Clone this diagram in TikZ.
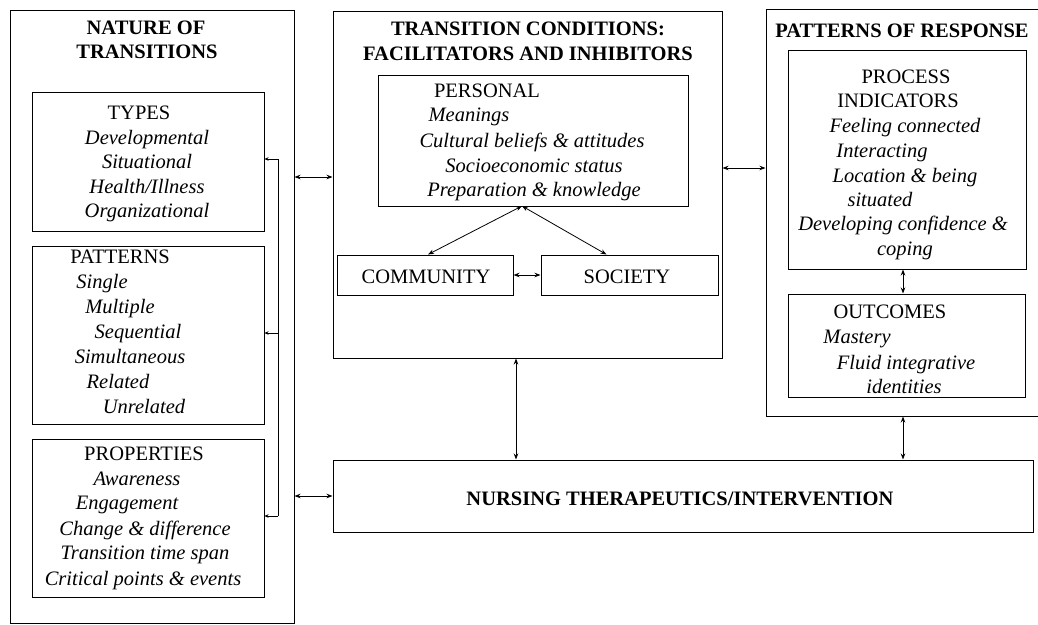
\documentclass[tikz,border=0pt]{standalone}
\usepackage{fontspec}
\setmainfont{Liberation Serif}
\usetikzlibrary{arrows.meta, fit, calc}

\tikzset{
  box/.style={draw, line width=1pt, inner sep=0pt},
  hd/.style={font=\fontsize{20.5}{24}\selectfont\bfseries, anchor=base, inner sep=0pt},
  sub/.style={font=\fontsize{20.5}{24}\selectfont, anchor=base, inner sep=0pt},
  itm/.style={font=\fontsize{20.5}{24}\selectfont\itshape, anchor=base, inner sep=0pt},
  dbl/.style={{Stealth[length=6pt,width=4.5pt]}-{Stealth[length=6pt,width=4.5pt]}, line width=0.8pt},
  tip/.style={-{Stealth[length=4pt,width=3.5pt]}, line width=0.8pt}
}

\begin{document}
\begin{tikzpicture}[x=1pt, y=-1pt]
  \useasboundingbox (0,0) rectangle (1038,624);
  % Nature of transitions
  \node[box, fit={(10,10) (294,623)}] (nat) {};
  \node[hd] (natA) at (146,34) {NATURE OF};
  \node[hd] (natB) at (147,58) {TRANSITIONS};
  \node[box, fit={(32,92) (264,231)}] (typ) {};
  \node[sub] (typT) at (139,119) {TYPES};
  \node[itm] (typ1) at (147,144) {Developmental};
  \node[itm] (typ2) at (147,168) {Situational};
  \node[itm] (typ3) at (147,193) {Health/Illness};
  \node[itm] (typ4) at (147,217) {Organizational};
  \node[box, fit={(32,246) (264,424)}] (pat) {};
  \node[sub] (patT) at (120,263) {PATTERNS};
  \node[itm] (pat1) at (102,288) {Single};
  \node[itm] (pat2) at (120,313) {Multiple};
  \node[itm] (pat3) at (138,338) {Sequential};
  \node[itm] (pat4) at (130,363) {Simultaneous};
  \node[itm] (pat5) at (118,388) {Related};
  \node[itm] (pat6) at (144,413) {Unrelated};
  \node[box, fit={(32,439) (264,597)}] (prp) {};
  \node[sub] (prpT) at (144,460) {PROPERTIES};
  \node[itm] (prp1) at (137,485) {Awareness};
  \node[itm] (prp2) at (127,509) {Engagement};
  \node[itm] (prp3) at (145,535) {Change \& difference};
  \node[itm] (prp4) at (145,559) {Transition time span};
  \node[itm] (prp5) at (143,585) {Critical points \& events};
  \coordinate (brA) at (278,159);
  \coordinate (brB) at (278,333);
  \coordinate (brC) at (278,516);
  \draw[line width=0.8pt] (brA) -- (brC);
  \draw[tip] (brA) -- (typ.east |- brA);
  \draw[tip] (brB) -- (pat.east |- brB);
  \draw[tip] (brC) -- (prp.east |- brC);
  % Transition conditions
  \node[box, fit={(333,11) (722,358)}] (con) {};
  \node[hd] (conA) at (528,35) {TRANSITION CONDITIONS:};
  \node[hd] (conB) at (528,60) {FACILITATORS AND INHIBITORS};
  \node[box, fit={(378,75) (688,206)}] (per) {};
  \node[sub] (perT) at (487,97) {PERSONAL};
  \node[itm] (per1) at (469,121) {Meanings};
  \node[itm] (per2) at (532,147) {Cultural beliefs \& attitudes};
  \node[itm] (per3) at (534,172) {Socioeconomic status};
  \node[itm] (per4) at (534,196) {Preparation \& knowledge};
  \node[box, fit={(337,255) (513,295)}] (com) {};
  \node[sub] (comT) at (426,283) {COMMUNITY};
  \node[box, fit={(541,255) (718,295)}] (soc) {};
  \node[sub] (socT) at (627,283) {SOCIETY};
  \coordinate (pj) at (522,206);
  \draw[dbl] (pj) -- ($(com.north)+(3,0)$);
  \draw[dbl] (pj) -- ($(soc.north)+(-23,0)$);
  \draw[dbl] (com.east) -- (soc.west);
  % Patterns of response
  \node[box, fit={(766,9) (1045,416)}] (rsp) {};
  \node[hd] (rspT) at (902,37) {PATTERNS OF RESPONSE};
  \node[box, fit={(788,50) (1026,269)}] (prc) {};
  \node[sub] (prcA) at (906,83) {PROCESS};
  \node[sub] (prcB) at (898,107) {INDICATORS};
  \node[itm] (prc1) at (905,132) {Feeling connected};
  \node[itm] (prc2) at (882,157) {Interacting};
  \node[itm] (prc3) at (905,182) {Location \& being};
  \node[itm] (prc4) at (880,206) {situated};
  \node[itm] (prc5) at (903,230) {Developing confidence \&};
  \node[itm] (prc6) at (905,255) {coping};
  \node[box, fit={(788,294) (1025,397)}] (out) {};
  \node[sub] (outT) at (890,318) {OUTCOMES};
  \node[itm] (out1) at (857,343) {Mastery};
  \node[itm] (out2) at (906,369) {Fluid integrative};
  \node[itm] (out3) at (904,393) {identities};
  \draw[dbl] (prc.south -| 903,0) -- (out.north -| 903,0);
  % Nursing therapeutics
  \node[box, fit={(333,460) (1033,532)}] (nur) {};
  \node[hd] (nurT) at (680,505) {NURSING THERAPEUTICS/INTERVENTION};
  \coordinate (ax) at (0,177);
  \coordinate (bx) at (0,168);
  \draw[dbl] (nat.east |- ax) -- (con.west |- ax);
  \draw[dbl] (con.east |- bx) -- (rsp.west |- bx);
  \draw[dbl] (nat.east |- nur.west) -- (nur.west);
  \draw[dbl] (con.south -| 516,0) -- (nur.north -| 516,0);
  \draw[dbl] (rsp.south -| 903,0) -- (nur.north -| 903,0);
\end{tikzpicture}
\end{document}
